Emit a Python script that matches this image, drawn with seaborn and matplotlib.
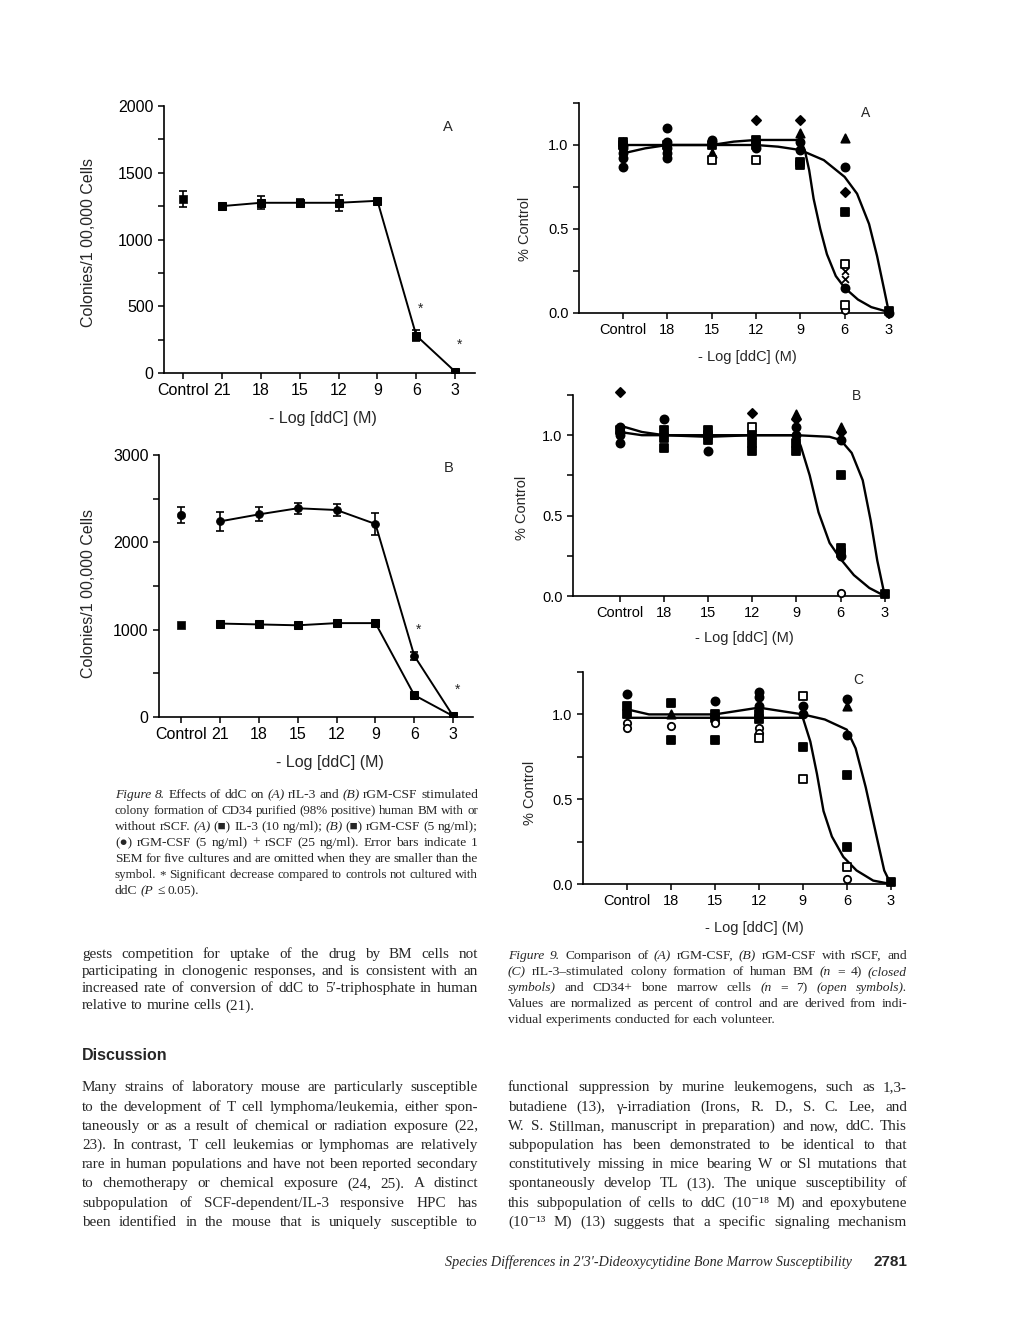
"""Recreates a journal page with the ddC colony formation figures."""

import matplotlib
matplotlib.use("Agg")
import matplotlib.pyplot as plt
from matplotlib.ticker import MultipleLocator
import seaborn as sns

FIG_W = 1020
FIG_H = 1320
SANS = ["Liberation Sans", "DejaVu Sans"]
SERIF = ["Liberation Serif", "DejaVu Serif"]

# ---- Figure 8 data (colonies / 100,000 cells)
fig8_labels = ["Control", "21", "18", "15", "12", "9", "6", "3"]
fig8a_square = [1300, 1250, 1275, 1275, 1275, 1290, 280, 10]
fig8a_err = [60, 0, 50, 30, 60, 0, 40, 0]
fig8b_circle = [2310, 2240, 2320, 2390, 2370, 2210, 700, 10]
fig8b_circle_err = [90, 110, 80, 60, 70, 130, 50, 0]
fig8b_square = [1050, 1070, 1060, 1050, 1075, 1075, 250, 10]
fig8_signif = ["6", "3"]

# ---- Figure 9 data (fraction of control)
# symbol codes: o/s/^/D closed, oo open circle, os open square, x cross
fig9_labels = ["Control", "18", "15", "12", "9", "6", "3"]

fig9a_dose = ["Control"] * 7 + ["18"] * 6 + ["15"] * 5 + ["12"] * 5 \
    + ["9"] * 6 + ["6"] * 10 + ["3"] * 2
fig9a_val = [0.87, 0.92, 0.95, 0.98, 1.00, 1.02, 1.02,
    1.10, 0.92, 0.95, 0.98, 1.00, 1.02,
    1.03, 1.00, 1.02, 0.95, 0.91,
    1.15, 1.03, 1.00, 0.98, 0.91,
    1.15, 1.07, 1.02, 0.97, 0.90, 0.88,
    1.04, 0.87, 0.72, 0.60, 0.29, 0.25, 0.20, 0.15, 0.05, 0.02,
    0.01, 0.00]
fig9a_sym = ["o", "o", "o", "o", "s", "s", "^",
    "o", "o", "o", "o", "s", "o",
    "o", "s", "o", "^", "os",
    "D", "s", "s", "o", "os",
    "D", "^", "o", "o", "s", "s",
    "^", "o", "D", "s", "os", "x", "x", "o", "os", "oo",
    "s", "o"]
fig9a_steep_x = [0, 1, 2, 2.5, 3, 4, 4.1, 4.2, 4.3, 4.45, 4.6, 4.8, 5.0,
    5.3, 5.6, 6.0]
fig9a_steep_y = [1.0, 1.0, 1.0, 1.02, 1.03, 1.03, 0.97, 0.85, 0.68, 0.50,
    0.35, 0.22, 0.15, 0.08, 0.035, 0.005]
fig9a_flat_x = [0, 0.5, 1, 2, 3, 3.5, 4, 4.53, 5.0, 5.28, 5.55, 5.73,
    5.89, 6.0]
fig9a_flat_y = [0.95, 0.98, 1.0, 1.0, 1.0, 0.99, 0.97, 0.91, 0.81, 0.71,
    0.53, 0.34, 0.14, 0.0]

fig9b_dose = ["Control"] * 6 + ["18"] * 4 + ["15"] * 4 + ["12"] * 5 \
    + ["9"] * 6 + ["6"] * 8 + ["3"]
fig9b_val = [1.27, 1.05, 1.03, 1.02, 1.00, 0.95,
    1.10, 1.03, 0.98, 0.92,
    1.03, 1.00, 0.97, 0.90,
    1.14, 1.05, 1.00, 0.95, 0.90,
    1.13, 1.10, 1.05, 1.00, 0.95, 0.90,
    1.05, 1.02, 0.97, 0.75, 0.30, 0.27, 0.25, 0.02,
    0.01]
fig9b_sym = ["D", "o", "s", "o", "o", "o",
    "o", "s", "s", "s",
    "s", "s", "s", "o",
    "D", "os", "s", "s", "s",
    "^", "D", "o", "o", "s", "s",
    "^", "D", "o", "s", "s", "s", "o", "oo",
    "s"]
fig9b_steep_x = [0, 0.5, 1, 2, 3, 4, 4.1, 4.3, 4.5, 4.75, 5.0, 5.3, 5.65,
    6.0]
fig9b_steep_y = [1.06, 1.02, 1.0, 1.0, 1.0, 1.0, 0.93, 0.75, 0.52, 0.33,
    0.23, 0.13, 0.05, 0.0]
fig9b_flat_x = [0, 0.5, 1, 2, 3, 4, 4.75, 5.0, 5.25, 5.5, 5.68, 5.83, 6.0]
fig9b_flat_y = [1.02, 1.0, 1.0, 0.99, 1.0, 1.0, 0.99, 0.97, 0.89, 0.72,
    0.47, 0.22, 0.0]

fig9c_dose = ["Control"] * 5 + ["18"] * 4 + ["15"] * 5 + ["12"] * 8 \
    + ["9"] * 5 + ["6"] * 7 + ["3"]
fig9c_val = [1.12, 1.05, 1.00, 0.95, 0.92,
    1.07, 1.00, 0.93, 0.85,
    1.08, 1.00, 0.98, 0.95, 0.85,
    1.13, 1.10, 1.05, 1.00, 0.97, 0.92, 0.89, 0.86,
    1.11, 1.05, 1.00, 0.81, 0.62,
    1.09, 1.05, 0.88, 0.64, 0.22, 0.10, 0.03,
    0.01]
fig9c_sym = ["o", "s", "s", "oo", "oo",
    "s", "^", "oo", "s",
    "o", "s", "s", "oo", "s",
    "o", "o", "o", "s", "s", "oo", "oo", "os",
    "os", "o", "o", "s", "os",
    "o", "^", "o", "s", "s", "os", "oo",
    "s"]
fig9c_steep_x = [0, 1, 2, 3, 4, 4.17, 4.32, 4.47, 4.66, 4.92, 5.22, 5.6,
    6.0]
fig9c_steep_y = [0.98, 0.98, 0.98, 0.98, 0.98, 0.84, 0.65, 0.43, 0.28,
    0.16, 0.08, 0.02, 0.0]
fig9c_flat_x = [0, 0.5, 1, 2, 2.5, 3, 3.5, 4, 4.5, 5.0, 5.2, 5.43, 5.66,
    5.85, 6.0]
fig9c_flat_y = [1.03, 1.0, 1.0, 1.0, 1.02, 1.04, 1.02, 1.0, 0.97, 0.91,
    0.80, 0.57, 0.30, 0.08, 0.0]

# ---- Page text (a ~ marks a word set in italics)
fig8_caption = [
    "~Figure ~8. Effects of ddC on ~(A) rIL-3 and ~(B) rGM-CSF stimulated",
    "colony formation of CD34 purified (98% positive) human BM with or",
    "without rSCF. ~(A) (■) IL-3 (10 ng/ml); ~(B) (■) rGM-CSF (5 ng/ml);",
    "(●) rGM-CSF (5 ng/ml) + rSCF (25 ng/ml). Error bars indicate 1",
    "SEM for five cultures and are omitted when they are smaller than the",
    "symbol. * Significant decrease compared to controls not cultured with",
    "ddC ~(P ≤ 0.05).",
]
fig9_caption = [
    "~Figure ~9. Comparison of ~(A) rGM-CSF, ~(B) rGM-CSF with rSCF, and",
    "~(C) rIL-3–stimulated colony formation of human BM ~(n = 4) ~(closed",
    "~symbols) and CD34+ bone marrow cells ~(n = 7) ~(open ~symbols).",
    "Values are normalized as percent of control and are derived from indi-",
    "vidual experiments conducted for each volunteer.",
]
left_body = [
    "gests competition for uptake of the drug by BM cells not",
    "participating in clonogenic responses, and is consistent with an",
    "increased rate of conversion of ddC to 5′-triphosphate in human",
    "relative to murine cells (21).",
]
discussion_body = [
    "Many strains of laboratory mouse are particularly susceptible",
    "to the development of T cell lymphoma/leukemia, either spon-",
    "taneously or as a result of chemical or radiation exposure (22,",
    "23). In contrast, T cell leukemias or lymphomas are relatively",
    "rare in human populations and have not been reported secondary",
    "to chemotherapy or chemical exposure (24, 25). A distinct",
    "subpopulation of SCF-dependent/IL-3 responsive HPC has",
    "been identified in the mouse that is uniquely susceptible to",
]
right_body = [
    "functional suppression by murine leukemogens, such as 1,3-",
    "butadiene (13), γ-irradiation (Irons, R. D., S. C. Lee, and",
    "W. S. Stillman, manuscript in preparation) and now, ddC. This",
    "subpopulation has been demonstrated to be identical to that",
    "constitutively missing in mice bearing W or Sl mutations that",
    "spontaneously develop TL (13). The unique susceptibility of",
    "this subpopulation of cells to ddC (10⁻¹⁸ M) and epoxybutene",
    "(10⁻¹³ M) (13) suggests that a specific signaling mechanism",
]
footer_title = "Species Differences in 2′3′-Dideoxycytidine Bone Marrow Susceptibility"
page_number = "2781"

SYMBOLS = {
    "o": ("o", True, 34), "s": ("s", True, 34), "^": ("^", True, 36),
    "D": ("D", True, 22), "oo": ("o", False, 28), "os": ("s", False, 30),
    "x": ("x", True, 24),
}


def makeAxes(fig, left, top, right, bottom):
  """
  Adds an axes given its pixel box on the page.
  """
  return fig.add_axes([left / FIG_W, 1 - bottom / FIG_H,
      (right - left) / FIG_W, (bottom - top) / FIG_H])


def styleAxes(ax, labelsize):
  """
  Journal style axes: left and bottom spines with outward ticks.
  """
  sns.despine(ax=ax)
  for side in ["left", "bottom"]:
    ax.spines[side].set_linewidth(1.2)
  ax.tick_params(which="both", direction="out", length=4.5, width=1.1,
      labelsize=labelsize, pad=3)
  for lab in ax.get_xticklabels() + ax.get_yticklabels():
    lab.set_family(SANS)


def plotFig8(ax, square, square_err, circle=None, circle_err=None,
    ymax=2000, major=500):
  """
  Plots a figure 8 panel.
  """
  xpos = list(range(len(fig8_labels)))
  series = [(square, square_err, "s")]
  if circle is not None:
    series.append((circle, circle_err, "o"))
  for vals, errs, marker in series:
    sns.lineplot(x=xpos[1:], y=vals[1:], color="black", lw=1.4,
        marker=marker, markersize=5.5, markeredgecolor="black",
        estimator=None, sort=False, ax=ax)
    sns.scatterplot(x=xpos[:1], y=vals[:1], color="black", marker=marker,
        s=36, edgecolor="black", ax=ax, zorder=3)
    if errs is not None:
      ex = [x for x, e in zip(xpos, errs) if e > 0]
      ey = [v for v, e in zip(vals, errs) if e > 0]
      ee = [e for e in errs if e > 0]
      ax.errorbar(ex, ey, yerr=ee, fmt="none", ecolor="black",
          elinewidth=1.2, capsize=3, capthick=1.2)
  top_vals = circle if circle is not None else square
  for lab in fig8_signif:
    idx = fig8_labels.index(lab)
    ax.text(idx + 0.1, top_vals[idx] + 0.1 * ymax, "*", ha="center",
        va="center", fontsize=10, family=SANS)
  ax.set_ylim(0, ymax)
  ax.yaxis.set_major_locator(MultipleLocator(major))
  ax.yaxis.set_minor_locator(MultipleLocator(major / 2))
  ax.set_xticks(xpos)
  ax.set_xticklabels(fig8_labels)
  styleAxes(ax, 11.5)
  ax.set_ylabel("Colonies/1 00,000 Cells", fontsize=11.5, family=SANS,
      va="center")
  ax.set_xlabel("- Log [ddC] (M)", fontsize=11.5, family=SANS, va="center")


def plotFig9(ax, dose, vals, syms, steep, flat):
  """
  Plots a figure 9 panel of normalized colony counts with fitted curves.
  """
  for xs, ys in [steep, flat]:
    sns.lineplot(x=xs, y=ys, color="black", lw=1.7, estimator=None,
        sort=False, ax=ax, zorder=2)
  xpos = [fig9_labels.index(d) for d in dose]
  for code, (marker, filled, size) in SYMBOLS.items():
    px = [x for x, s in zip(xpos, syms) if s == code]
    py = [v for v, s in zip(vals, syms) if s == code]
    if not px:
      continue
    if marker == "x":
      sns.scatterplot(x=px, y=py, marker="x", color="black", s=size,
          linewidth=1.3, ax=ax, zorder=3, clip_on=False)
    else:
      face = "black" if filled else "white"
      sns.scatterplot(x=px, y=py, marker=marker, facecolor=face,
          edgecolor="black", linewidth=1.3, s=size, ax=ax, zorder=3,
          clip_on=False)
  ax.set_ylim(0, 1.25)
  ax.set_yticks([0.0, 0.5, 1.0])
  ax.set_yticklabels(["0.0", "0.5", "1.0"])
  ax.yaxis.set_minor_locator(MultipleLocator(0.25))
  ax.set_xticks(range(len(fig9_labels)))
  ax.set_xticklabels(fig9_labels)
  styleAxes(ax, 10.5)
  ax.set_ylabel("% Control", fontsize=10.5, family=SANS, va="center")
  ax.set_xlabel("- Log [ddC] (M)", fontsize=10.5, family=SANS, va="center")


def writeLine(fig, renderer, text, left, right, y, size, justify=True):
  """
  Writes one line of serif words between two pixel columns, y being the
  middle of the lower case letters. Words holding a ~ are set in italics.
  """
  words = text.split()
  base = 1 - (y + 0.22 * size * 100 / 72) / FIG_H
  for attempt in range(2):
    items = []
    for word in words:
      style = "italic" if "~" in word else "normal"
      art = fig.text(0, base, word.replace("~", ""), fontsize=size,
          family=SERIF, style=style, va="baseline", ha="left")
      items.append((art, art.get_window_extent(renderer).width))
    used = sum(w for _, w in items)
    min_space = size * 100 / 72 * 0.2
    room = right - left - min_space * (len(items) - 1)
    if used <= room or attempt == 1:
      break
    # Line is too long for the column: shrink it and measure again
    for art, _ in items:
      art.remove()
    size = size * room / used
  space = size * 100 / 72 * 0.25
  if justify and len(items) > 1:
    space = (right - left - used) / (len(items) - 1)
  xpos = left
  for art, width in items:
    art.set_x(xpos / FIG_W)
    xpos += width + space


def writeBlock(fig, renderer, lines, left, right, top, step, size,
    justify_last=False):
  """
  Writes a justified paragraph.
  """
  for num, line in enumerate(lines):
    last = num == len(lines) - 1
    writeLine(fig, renderer, line, left, right, top + num * step, size,
        justify=(justify_last or not last))


def pageText(fig, x, y, text, **kwargs):
  fig.text(x / FIG_W, 1 - y / FIG_H, text, **kwargs)


sns.set_style("ticks")
plt.rcParams["font.family"] = SANS
plt.rcParams["axes.edgecolor"] = "black"
plt.rcParams["xtick.color"] = "black"
plt.rcParams["ytick.color"] = "black"

fig = plt.figure(figsize=(FIG_W / 100, FIG_H / 100), dpi=100)
renderer = fig.canvas.get_renderer()

# Figure 8 panels
ax = makeAxes(fig, 164, 106, 475, 373)
plotFig8(ax, fig8a_square, fig8a_err)
ax.set_xlim(-0.49, 7.51)
ax.yaxis.set_label_coords(-0.244, 0.487)
ax.xaxis.set_label_coords(0.511, -0.169)
pageText(fig, 448, 127, "A", fontsize=10.5, family=SANS, ha="center",
    va="center")

ax = makeAxes(fig, 159, 455, 473, 717)
plotFig8(ax, fig8b_square, None, fig8b_circle, fig8b_circle_err,
    ymax=3000, major=1000)
ax.set_xlim(-0.57, 7.51)
ax.yaxis.set_label_coords(-0.226, 0.473)
ax.xaxis.set_label_coords(0.545, -0.172)
pageText(fig, 449, 468, "B", fontsize=10.5, family=SANS, ha="center",
    va="center")

# Figure 9 panels
ax = makeAxes(fig, 579, 103, 893, 313)
plotFig9(ax, fig9a_dose, fig9a_val, fig9a_sym,
    (fig9a_steep_x, fig9a_steep_y), (fig9a_flat_x, fig9a_flat_y))
ax.set_xlim(-0.99, 6.09)
ax.yaxis.set_label_coords(-0.172, 0.40)
ax.xaxis.set_label_coords(0.535, -0.21)
pageText(fig, 866, 113, "A", fontsize=10, family=SANS, ha="center",
    va="center")

ax = makeAxes(fig, 573, 395, 887, 596)
plotFig9(ax, fig9b_dose, fig9b_val, fig9b_sym,
    (fig9b_steep_x, fig9b_steep_y), (fig9b_flat_x, fig9b_flat_y))
ax.set_xlim(-1.06, 6.05)
ax.yaxis.set_label_coords(-0.162, 0.44)
ax.xaxis.set_label_coords(0.545, -0.209)
pageText(fig, 857, 396, "B", fontsize=10, family=SANS, ha="center",
    va="center")

ax = makeAxes(fig, 583, 672, 893, 884)
plotFig9(ax, fig9c_dose, fig9c_val, fig9c_sym,
    (fig9c_steep_x, fig9c_steep_y), (fig9c_flat_x, fig9c_flat_y))
ax.set_xlim(-1.0, 6.05)
ax.yaxis.set_label_coords(-0.171, 0.43)
ax.xaxis.set_label_coords(0.552, -0.208)
pageText(fig, 858, 680, "C", fontsize=10, family=SANS, ha="center",
    va="center")

# Captions and body text
writeBlock(fig, renderer, fig8_caption, 115, 478, 795, 16, 9.7)
writeBlock(fig, renderer, fig9_caption, 508, 907, 956, 16, 9.7)
writeBlock(fig, renderer, left_body, 82, 478, 955, 17, 10.9)
pageText(fig, 82, 1055, "Discussion", fontsize=11.5, weight="bold",
    family=SANS, ha="left", va="center")
writeBlock(fig, renderer, discussion_body, 82, 478, 1088, 19.2, 10.9,
    justify_last=True)
writeBlock(fig, renderer, right_body, 508, 907, 1088, 19.2, 10.9,
    justify_last=True)
pageText(fig, 852, 1262, footer_title, fontsize=10.2, style="italic",
    family=SERIF, ha="right", va="center")
pageText(fig, 907, 1262, page_number, fontsize=11, weight="bold",
    family=SANS, ha="right", va="center")

fig.savefig("out.png", dpi=100)
